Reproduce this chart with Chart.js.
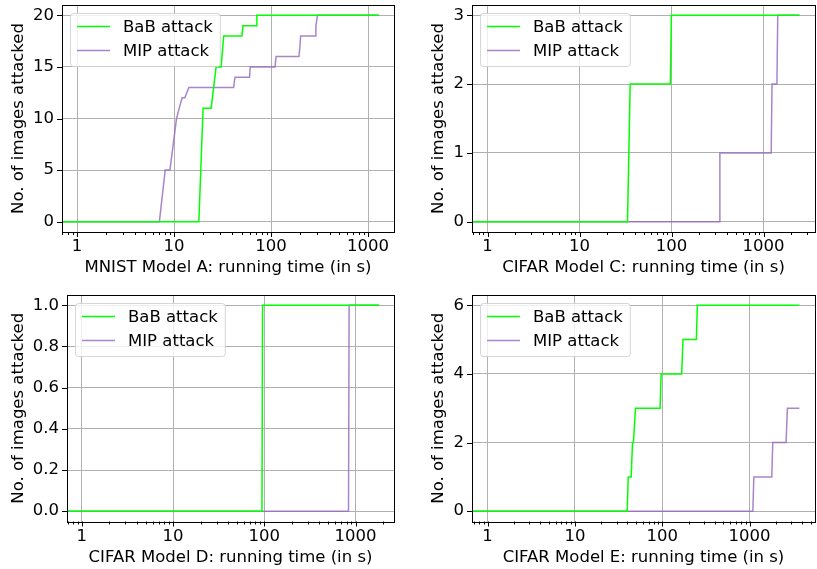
<!DOCTYPE html>
<html>
<head>
<meta charset="utf-8">
<script src="https://cdn.jsdelivr.net/npm/chart.js@4.4.1/dist/chart.umd.min.js"></script>
<style>
  html, body { margin: 0; padding: 0; background: #fff; }
  #wrap { position: relative; width: 817px; height: 569px; overflow: hidden; }
  canvas { position: absolute; }
</style>
</head>
<body>
<div id="wrap">
  <canvas id="c1"></canvas>
  <canvas id="c2"></canvas>
  <canvas id="c3"></canvas>
  <canvas id="c4"></canvas>
</div>
<script>
// ---- data ----
const seriesNames = ['BaB attack', 'MIP attack'];
const xTickValues = [1, 10, 100, 1000];

// MNIST Model A
const mnistBabTime  = [0.1, 18.0, 19.9, 24.1, 27.1, 30.5, 32.5, 50.0, 51.2, 70.2, 71.3, 1291];
const mnistBabCount = [0,   0,    11,   11,   15,   15,   18,   18,   19,   19,   20,   20];
const mnistMipTime  = [0.1, 7.05, 8.1, 9.06, 10.6, 11.3, 12.1, 12.9, 14.2, 41.1, 42.4, 59.9, 60.9, 109.8, 112.5, 193.6, 198.3, 201.5, 285, 289.6, 301, 1291];
const mnistMipCount = [0,   0,    5,   5,    10,   11,   12,   12,   13,   13,   14,   14,   15,   15,    16,    16,    17,    18,    18,  19,    20,  20];
const mnistYTicks = [0, 5, 10, 15, 20];

// CIFAR Model C
const cifarCBabTime  = [0.1, 33.2, 35.5, 97, 99.5, 2455];
const cifarCBabCount = [0,   0,    2,    2,  3,    3];
const cifarCMipTime  = [0.1, 329, 335, 1211, 1236, 1397, 1427, 2455];
const cifarCMipCount = [0,   0,   1,   1,    2,    2,    3,    3];
const cifarCYTicks = [0, 1, 2, 3];

// CIFAR Model D
const cifarDBabTime  = [0.1, 94.3, 95.7, 1816];
const cifarDBabCount = [0,   0,    1,    1];
const cifarDMipTime  = [0.1, 838, 851, 1816];
const cifarDMipCount = [0,   0,   1,   1];
const cifarDYTicks = [0, 0.2, 0.4, 0.6, 0.8, 1.0];

// CIFAR Model E
const cifarEBabTime  = [0.1, 39.7, 40.8, 44.1, 45.7, 46.8, 49.4, 94.6, 97.1, 167, 173, 246, 252.5, 3720];
const cifarEBabCount = [0,   0,    1,    1,    2,    2,    3,    3,    4,    4,   5,   5,   6,     6];
const cifarEMipTime  = [0.1, 1091, 1120, 1798, 1845, 2620, 2716, 3720];
const cifarEMipCount = [0,   0,    1,    1,    2,    2,    3,    3];
const cifarEYTicks = [0, 2, 4, 6];

// ---- panels ----
const panels = [
  { id: 'c1', xTitle: 'MNIST Model A: running time (in s)', xMin: 0.699, xMax: 1849, yMin: -1, yMax: 21,
    yTicks: mnistYTicks, dec: 0, bab: [mnistBabTime, mnistBabCount], mip: [mnistMipTime, mnistMipCount] },
  { id: 'c2', xTitle: 'CIFAR Model C: running time (in s)', xMin: 0.677, xMax: 3625, yMin: -0.15, yMax: 3.15,
    yTicks: cifarCYTicks, dec: 0, bab: [cifarCBabTime, cifarCBabCount], mip: [cifarCMipTime, cifarCMipCount] },
  { id: 'c3', xTitle: 'CIFAR Model D: running time (in s)', xMin: 0.687, xMax: 2642, yMin: -0.05, yMax: 1.05,
    yTicks: cifarDYTicks, dec: 1, bab: [cifarDBabTime, cifarDBabCount], mip: [cifarDMipTime, cifarDMipCount] },
  { id: 'c4', xTitle: 'CIFAR Model E: running time (in s)', xMin: 0.663, xMax: 5620, yMin: -0.3, yMax: 6.3,
    yTicks: cifarEYTicks, dec: 0, bab: [cifarEBabTime, cifarEBabCount], mip: [cifarEMipTime, cifarEMipCount] }
];

// where each canvas sits and where its plot box goes
const boxes = {
  c1: { left: 0,   top: 0,   w: 408, h: 285, areaL: 62, areaR: 394, areaT: 5,  areaB: 232,   yTitlePad: 9,  xTitlePad: 7 },
  c2: { left: 408, top: 0,   w: 409, h: 285, areaL: 64, areaR: 407, areaT: 5,  areaB: 232,   yTitlePad: 21, xTitlePad: 7 },
  c3: { left: 0,   top: 285, w: 408, h: 284, areaL: 67, areaR: 394, areaT: 10, areaB: 236.5, yTitlePad: 9,  xTitlePad: 1.5 },
  c4: { left: 408, top: 285, w: 409, h: 284, areaL: 64, areaR: 407, areaT: 10, areaB: 236.5, yTitlePad: 21, xTitlePad: 1.5 }
};

const FONT = 'DejaVu Sans';
const FSIZE = 16.5;
Chart.defaults.font.family = FONT;
Chart.defaults.font.size = FSIZE;
Chart.defaults.color = '#000';

const babColor = '#00ff00';
const mipColor = 'rgba(148, 103, 189, 0.8)';

function toPoints(times, counts) {
  return times.map((t, i) => ({ x: t, y: counts[i] }));
}

// frame + tick marks like matplotlib
const framePlugin = {
  id: 'frame',
  afterDatasetsDraw(chart) {
    const { ctx, chartArea: a } = chart;
    const xs = chart.scales.x, ys = chart.scales.y;
    ctx.save();
    ctx.strokeStyle = '#000';
    ctx.lineWidth = 1;
    xs.ticks.forEach(t => {
      const px = Math.round(xs.getPixelForValue(t.value)) + 0.5;
      if (px < a.left - 0.5 || px > a.right + 0.5) return;
      ctx.beginPath();
      ctx.moveTo(px, a.bottom);
      ctx.lineTo(px, a.bottom + (t.major ? 5 : 3));
      ctx.stroke();
    });
    ys.ticks.forEach(t => {
      const py = Math.round(ys.getPixelForValue(t.value)) + 0.5;
      ctx.beginPath();
      ctx.moveTo(a.left, py);
      ctx.lineTo(a.left - 5, py);
      ctx.stroke();
    });
    ctx.strokeRect(Math.round(a.left) + 0.5, Math.round(a.top) + 0.5,
      Math.round(a.right - a.left), Math.round(a.bottom - a.top));
    ctx.restore();
  }
};

// boxed legend in the upper left of the plot area
const legendPlugin = {
  id: 'boxLegend',
  afterDatasetsDraw(chart) {
    const { ctx, chartArea: a } = chart;
    const x0 = a.left + 8, y0 = a.top + 8;
    ctx.save();
    ctx.font = FSIZE + 'px "' + FONT + '"';
    const tw = Math.max(...chart.data.datasets.map(d => ctx.measureText(d.label).width));
    const w = 53 + tw + 7, h = 53;
    ctx.beginPath();
    ctx.roundRect(x0 + 0.5, y0 + 0.5, w, h, 3);
    ctx.fillStyle = 'rgba(255,255,255,0.8)';
    ctx.fill();
    ctx.strokeStyle = 'rgba(204,204,204,0.8)';
    ctx.lineWidth = 1;
    ctx.stroke();
    chart.data.datasets.forEach((d, i) => {
      const y = y0 + 13.5 + i * 24;
      ctx.beginPath();
      ctx.moveTo(x0 + 7, y);
      ctx.lineTo(x0 + 40, y);
      ctx.strokeStyle = d.borderColor;
      ctx.lineWidth = 1.5;
      ctx.stroke();
      ctx.fillStyle = '#000';
      ctx.textBaseline = 'middle';
      ctx.textAlign = 'left';
      ctx.fillText(d.label, x0 + 53, y + 1);
    });
    ctx.restore();
  }
};

panels.forEach(p => {
  const b = boxes[p.id];
  const cv = document.getElementById(p.id);
  cv.width = b.w; cv.height = b.h;
  cv.style.left = b.left + 'px'; cv.style.top = b.top + 'px';
  cv.style.width = b.w + 'px'; cv.style.height = b.h + 'px';

  new Chart(cv.getContext('2d'), {
    type: 'line',
    data: {
      datasets: [
        { label: seriesNames[0], data: toPoints(p.bab[0], p.bab[1]), borderColor: babColor,
          borderWidth: 1.5, pointRadius: 0, tension: 0, fill: false },
        { label: seriesNames[1], data: toPoints(p.mip[0], p.mip[1]), borderColor: mipColor,
          borderWidth: 1.5, pointRadius: 0, tension: 0, fill: false }
      ]
    },
    options: {
      responsive: false,
      animation: false,
      devicePixelRatio: 1,
      layout: { padding: { left: 0, top: b.areaT, right: b.w - b.areaR, bottom: 0 } },
      plugins: { legend: { display: false }, tooltip: { enabled: false } },
      scales: {
        x: {
          type: 'logarithmic',
          min: p.xMin,
          max: p.xMax,
          afterBuildTicks(scale) {
            const ticks = [];
            xTickValues.forEach(v => {
              for (let k = 1; k <= 9; k++) {
                const val = v * k;
                if (val >= p.xMin && val <= p.xMax) ticks.push({ value: val, major: k === 1 });
              }
              for (let k = 2; k <= 9; k++) {
                const val = v * k / 10;
                if (v === xTickValues[0] && val >= p.xMin) ticks.push({ value: val, major: false });
              }
            });
            ticks.sort((m, n) => m.value - n.value);
            scale.ticks = ticks;
          },
          afterFit(scale) {
            scale.height = b.h - b.areaB;
            scale.paddingLeft = 0;
            scale.paddingRight = 0;
          },
          ticks: {
            autoSkip: false,
            maxRotation: 0,
            padding: 5,
            font: { size: FSIZE },
            callback: (v) => xTickValues.includes(v) ? String(v) : ''
          },
          grid: {
            drawTicks: false,
            lineWidth: 1,
            color: (c) => (c.tick && c.tick.major) ? '#b0b0b0' : 'rgba(0,0,0,0)'
          },
          border: { display: false },
          title: { display: true, text: p.xTitle, font: { size: FSIZE }, padding: { top: 0, bottom: b.xTitlePad } }
        },
        y: {
          type: 'linear',
          min: p.yMin,
          max: p.yMax,
          afterBuildTicks(scale) { scale.ticks = p.yTicks.map(v => ({ value: v })); },
          afterFit(scale) {
            scale.width = b.areaL;
            scale.paddingTop = 0;
            scale.paddingBottom = 0;
          },
          ticks: {
            autoSkip: false,
            padding: 8,
            font: { size: FSIZE },
            callback: (v) => Number(v).toFixed(p.dec)
          },
          grid: { drawTicks: false, lineWidth: 1, color: '#b0b0b0' },
          border: { display: false },
          title: { display: true, text: 'No. of images attacked', font: { size: FSIZE }, padding: { top: b.yTitlePad, bottom: 0 } }
        }
      }
    },
    plugins: [framePlugin, legendPlugin]
  });
});
</script>
</body>
</html>
